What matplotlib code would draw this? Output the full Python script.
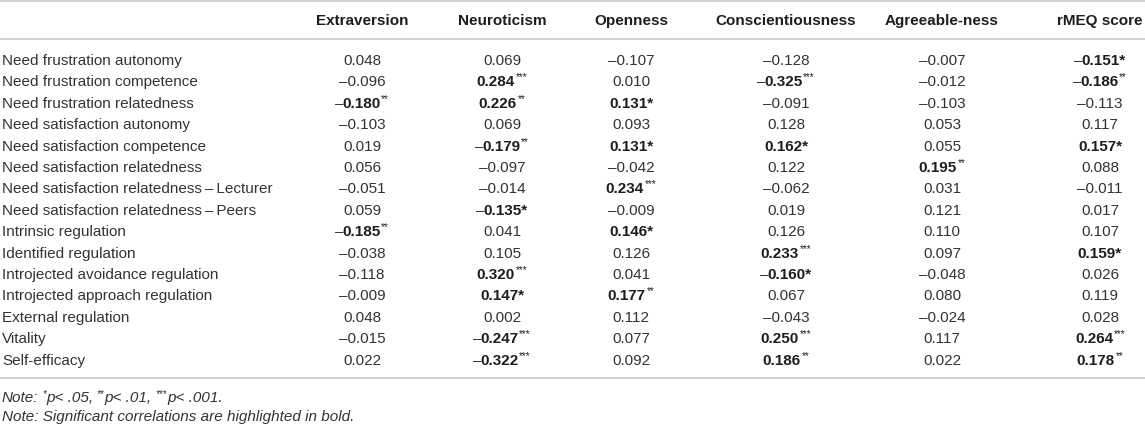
import matplotlib.pyplot as plt

plt.rcParams['font.family'] = ['Liberation Sans', 'DejaVu Sans']

rows = [
    "Need frustration autonomy",
    "Need frustration competence",
    "Need frustration relatedness",
    "Need satisfaction autonomy",
    "Need satisfaction competence",
    "Need satisfaction relatedness",
    "Need satisfaction relatedness\u2009\u2013\u2009Lecturer",
    "Need satisfaction relatedness\u2009\u2013\u2009Peers",
    "Intrinsic regulation",
    "Identified regulation",
    "Introjected avoidance regulation",
    "Introjected approach regulation",
    "External regulation",
    "Vitality",
    "Self-efficacy",
]
columns = ["Extraversion", "Neuroticism", "Openness", "Conscientiousness",
           "Agreeable-ness", "rMEQ score"]

extraversion = [0.048, -0.096, -0.180, -0.103, 0.019, 0.056, -0.051, 0.059,
                -0.185, -0.038, -0.118, -0.009, 0.048, -0.015, 0.022]
neuroticism = [0.069, 0.284, 0.226, 0.069, -0.179, -0.097, -0.014, -0.135,
               0.041, 0.105, 0.320, 0.147, 0.002, -0.247, -0.322]
openness = [-0.107, 0.010, 0.131, 0.093, 0.131, -0.042, 0.234, -0.009,
            0.146, 0.126, 0.041, 0.177, 0.112, 0.077, 0.092]
conscientiousness = [-0.128, -0.325, -0.091, 0.128, 0.162, 0.122, -0.062, 0.019,
                     0.126, 0.233, -0.160, 0.067, -0.043, 0.250, 0.186]
agreeableness = [-0.007, -0.012, -0.103, 0.053, 0.055, 0.195, 0.031, 0.121,
                 0.110, 0.097, -0.048, 0.080, -0.024, 0.117, 0.022]
rmeq = [-0.151, -0.186, -0.113, 0.117, 0.157, 0.088, -0.011, 0.017,
        0.107, 0.159, 0.026, 0.119, 0.028, 0.264, 0.178]

# number of significance stars per cell
extraversion_sig = [0, 0, 2, 0, 0, 0, 0, 0, 2, 0, 0, 0, 0, 0, 0]
neuroticism_sig = [0, 3, 2, 0, 2, 0, 0, 1, 0, 0, 3, 1, 0, 3, 3]
openness_sig = [0, 0, 1, 0, 1, 0, 3, 0, 1, 0, 0, 2, 0, 0, 0]
conscientiousness_sig = [0, 3, 0, 0, 1, 0, 0, 0, 0, 3, 1, 0, 0, 3, 2]
agreeableness_sig = [0, 0, 0, 0, 0, 2, 0, 0, 0, 0, 0, 0, 0, 0, 0]
rmeq_sig = [1, 2, 0, 0, 1, 0, 0, 0, 0, 1, 0, 0, 0, 3, 2]

values = [extraversion, neuroticism, openness, conscientiousness, agreeableness, rmeq]
sigs = [extraversion_sig, neuroticism_sig, openness_sig, conscientiousness_sig,
        agreeableness_sig, rmeq_sig]

W, H = 1145, 424
col_x = [362, 502, 631, 786, 942, 1100]
row_y0 = 60
row_step = 21.4
header_y = 20
FS = 11
TXT = '#333333'
BTXT = '#1e1e1e'
LINE = '#cccccc'

fig = plt.figure(figsize=(W / 100, H / 100), dpi=100)
ax = fig.add_axes([0, 0, 1, 1])
ax.set_xlim(0, W)
ax.set_ylim(H, 0)
ax.axis('off')
renderer = fig.canvas.get_renderer()


def put_runs(x, y, runs, ha='left'):
    # runs: (text, fontdict, dy, gap_before)
    texts, widths, gaps = [], [], []
    for s, kw, dy, gap in runs:
        t = ax.text(0, y + dy, s, va='baseline', **kw)
        texts.append(t)
        widths.append(t.get_window_extent(renderer).width)
        gaps.append(gap)
    total = sum(widths) + sum(gaps)
    pos = x - total / 2 if ha == 'center' else x
    for t, w, g in zip(texts, widths, gaps):
        pos += g
        t.set_x(pos)
        pos += w


def fmt(v):
    return ('\u2013' if v < 0 else '') + f"{abs(v):.3f}"


normal = dict(fontsize=FS, color=TXT)
bold = dict(fontsize=FS, fontweight='bold', color=BTXT)
sup = dict(fontsize=7, color=BTXT)
ital = dict(fontsize=FS, style='italic', color=TXT)
sup_i = dict(fontsize=7, style='italic', color=TXT)

# rules
for yl in [1, 39, 378]:
    ax.plot([0, W], [yl, yl], color=LINE, lw=1.3, solid_capstyle='butt')

# header
for name, cx in zip(columns, col_x):
    ax.text(cx, header_y + 5, name, ha='center', va='baseline', **bold)

# body
for i, label in enumerate(rows):
    y = row_y0 + i * row_step + 5
    ax.text(2, y, label, ha='left', va='baseline', **normal)
    for j, cx in enumerate(col_x):
        v = values[j][i]
        s = sigs[j][i]
        if s == 0:
            ax.text(cx, y, fmt(v), ha='center', va='baseline', **normal)
            continue
        runs = []
        if v < 0:
            runs.append(('\u2013', normal, 0, 0))
        num = f"{abs(v):.3f}"
        if s == 1:
            runs.append((num + '*', bold, 0, -1.5 if v < 0 else 0))
        else:
            runs.append((num, bold, 0, -1.5 if v < 0 else 0))
            runs.append(('*' * s, sup, -6, 0.5))
        put_runs(cx, y, runs, ha='center')

# notes
sp = 3.5
put_runs(2, 402, [("Note:", ital, 0, 0), ("*", sup_i, -5, sp), ("p< .05,", ital, 0, 0.5),
                  ("**", sup_i, -5, sp), ("p< .01,", ital, 0, 0.5),
                  ("***", sup_i, -5, sp), ("p< .001.", ital, 0, 0.5)])
ax.text(2, 421, "Note: Significant correlations are highlighted in bold.",
        ha='left', va='baseline', **ital)

fig.savefig('out.png', dpi=100)
